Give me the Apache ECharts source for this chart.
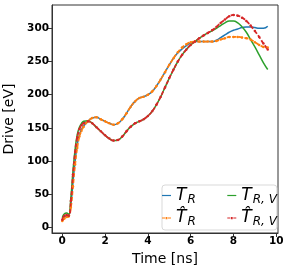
<!DOCTYPE html>
<html><head><meta charset="utf-8">
<script src="https://cdn.jsdelivr.net/npm/echarts@6/dist/echarts.min.js"></script>
<style>html,body{margin:0;padding:0;background:#fff}#c{width:289px;height:270px}</style>
</head><body><div id="c"></div>
<script>
const times = [0,0.1,0.2,0.3,0.4,0.5,0.6,0.7,0.8,0.9,1.0,1.2,1.4,1.6,1.8,2.0,2.2,2.4,2.6,2.8,3.0,3.2,3.4,3.6,3.8,4.0,4.2,4.4,4.6,4.8,5.0,5.2,5.4,5.6,5.8,6.0,6.2,6.4,6.6,6.8,7.0,7.2,7.4,7.6,7.8,8.0,8.2,8.4,8.6,8.8,9.0,9.2,9.4,9.6];
const tR = [12,16,17,18,35,68,100,125,140,148,153,160,165,166,163,160,157,155,157,163,172,182,190,195,197,200,205,213,223,234,245,255,263,269,274,278,280,280,280,280,280,282,286,290,294,297,299,301,302,302,301,300,300,303];
const tRhat = [10,14,16,17,30,62,95,120,137,146,152,160,165,166,163,160,157,155,157,163,172,182,190,195,197,200,205,213,223,234,245,255,264,271,276,279,280,280,280,280,280,281,283,285,287,287,287,286,285,283,279,275,272,271];
const tRV = [15,21,22,20,45,85,118,140,151,157,160,161,157,151,145,139,134,131,132,137,145,152,157,160,163,168,175,185,197,211,225,238,250,260,268,275,280,285,289,293,296,300,304,308,311,311,308,302,294,283,272,260,248,238];
const tRVhat = [12,18,19,18,40,80,114,136,148,154,157,160,157,151,145,139,134,131,132,137,145,152,157,160,163,168,175,185,197,211,225,238,250,260,268,275,280,285,289,293,297,302,308,313,318,320,319,316,311,304,296,287,277,268];
const xTicks = [0,2,4,6,8,10];
const yTicks = [0,50,100,150,200,250,300];
const gap = '{g|' + '\u00a0'.repeat(7) + '}';
const labels = {
  'T_R': '{i|T}{s|R}' + gap,
  'That_R': '{i|T\u0302}{s|R}' + gap,
  'T_RV': '{i|T}{s|R, V}',
  'That_RV': '{i|T\u0302}{s|R, V}'
};
const pairs = v => times.map((t,i)=>[t,v[i]]);
const rich = {
  i:{fontFamily:'DejaVu Sans',fontStyle:'italic',fontSize:17,color:'#000'},
  s:{fontFamily:'DejaVu Sans',fontStyle:'italic',fontSize:12,color:'#000',padding:[8,0,0,1]},
  g:{fontFamily:'DejaVu Sans',fontSize:12.4,color:'#000'}
};
const solidIcon = 'path://M0,0H12V1.6H0Z';
const dashIcon = 'path://M0,0.7H4V2.3H0Z M4.8,0H7.2V3H4.8Z M8,0.7H12V2.3H8Z';
const tickFont = {fontFamily:'DejaVu Sans',fontWeight:'bold',fontSize:10.5,color:'#000'};
const chart = echarts.init(document.getElementById('c'));
chart.setOption({
  animation:false,
  backgroundColor:'#fff',
  grid:{left:52,right:11,top:5,bottom:37,outerBoundsMode:'none',containLabel:false,show:true,borderColor:'#333',borderWidth:1,backgroundColor:'transparent'},
  xAxis:{type:'value',min:-0.48,max:10.08,
    name:'Time [ns]',nameLocation:'middle',nameGap:16,
    nameTextStyle:{fontFamily:'DejaVu Sans',fontSize:14,color:'#000',verticalAlign:'top'},
    axisLine:{show:true,onZero:false,lineStyle:{color:'#333',width:1}},
    axisTick:{show:true,length:4,lineStyle:{color:'#333'},customValues:xTicks},
    axisLabel:{...tickFont,margin:3,customValues:xTicks},
    splitLine:{show:false}},
  yAxis:{type:'value',min:-8,max:335,
    name:'Drive [eV]',nameLocation:'middle',nameGap:31,
    nameTextStyle:{fontFamily:'DejaVu Sans',fontSize:14,color:'#000'},
    axisLine:{show:true,onZero:false,lineStyle:{color:'#333',width:1}},
    axisTick:{show:true,length:4,lineStyle:{color:'#333'},customValues:yTicks},
    axisLabel:{...tickFont,margin:3,customValues:yTicks},
    splitLine:{show:false}},
  legend:{data:[
      {name:'T_R',icon:solidIcon},
      {name:'That_R',icon:dashIcon},
      {name:'T_RV',icon:solidIcon},
      {name:'That_RV',icon:dashIcon}],
     orient:'vertical',left:162,top:185,height:48,
     itemWidth:9,itemHeight:8,itemGap:4,padding:[2,0,2,0],
     backgroundColor:'rgba(255,255,255,0.8)',borderColor:'#d9d9d9',borderWidth:1,borderRadius:3,
     formatter:n=>labels[n],textStyle:{rich:rich}},
  series:[
    {name:'T_R',type:'line',data:pairs(tR),smooth:true,showSymbol:false,symbol:'none',
     lineStyle:{color:'#1f77b4',width:1.5},itemStyle:{color:'#1f77b4'},z:2},
    {name:'That_R',type:'line',data:pairs(tRhat),smooth:true,symbol:'circle',symbolSize:2.5,showSymbol:true,
     lineStyle:{color:'#ff7f0e',width:1.8,type:[4,2]},itemStyle:{color:'#ff7f0e'},z:3},
    {name:'T_RV',type:'line',data:pairs(tRV),smooth:true,showSymbol:false,symbol:'none',
     lineStyle:{color:'#2ca02c',width:1.5},itemStyle:{color:'#2ca02c'},z:2},
    {name:'That_RV',type:'line',data:pairs(tRVhat),smooth:true,symbol:'circle',symbolSize:2.5,showSymbol:true,
     lineStyle:{color:'#d62728',width:1.8,type:[4,2]},itemStyle:{color:'#d62728'},z:3}
  ]
});
</script></body></html>
